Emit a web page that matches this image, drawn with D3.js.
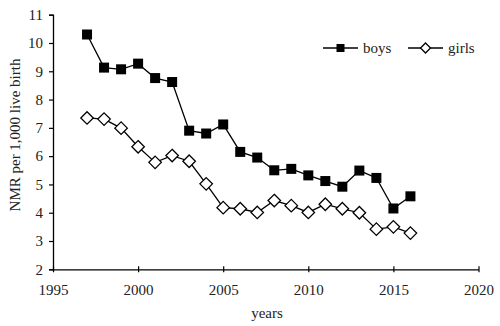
<!DOCTYPE html>
<html>
<head>
<meta charset="utf-8">
<script src="https://cdn.jsdelivr.net/npm/d3@7"></script>
<style>
  html, body { margin: 0; padding: 0; background: #fff; }
  svg { display: block; }
</style>
</head>
<body>
<svg id="chart" width="500" height="326"></svg>
<script>
// Neonatal mortality rate per 1,000 live births, by sex
const years = [1997, 1998, 1999, 2000, 2001, 2002, 2003, 2004, 2005, 2006,
               2007, 2008, 2009, 2010, 2011, 2012, 2013, 2014, 2015, 2016];
const boys  = [10.3, 9.13, 9.07, 9.27, 8.76, 8.62, 6.9, 6.8, 7.12, 6.15,
               5.95, 5.5, 5.55, 5.32, 5.12, 4.92, 5.49, 5.23, 4.15, 4.58];
const girls = [7.35, 7.31, 6.99, 6.33, 5.78, 6.02, 5.82, 5.02, 4.18, 4.14,
               4.01, 4.43, 4.25, 4.01, 4.3, 4.14, 4.0, 3.42, 3.5, 3.28];
const xTicks = [1995, 2000, 2005, 2010, 2015, 2020];
const yTicks = [2, 3, 4, 5, 6, 7, 8, 9, 10, 11];

const FONT = "Liberation Serif, Tinos, Times New Roman, Times, DejaVu Serif, serif";
const svg = d3.select("#chart").style("font-family", FONT);
const x = d3.scaleLinear().domain([1995, 2020]).range([53, 478.5]);
const y = d3.scaleLinear().domain([2, 11]).range([269.3, 14.7]);

// Axes
const xAxis = svg.append("g").attr("transform", `translate(0,${y(2)})`)
  .call(d3.axisBottom(x).tickValues(xTicks).tickFormat(d3.format("d")).tickSize(0).tickPadding(15));
xAxis.selectAll(".tick").append("line").attr("y1", -3).attr("y2", 3).attr("stroke", "#000");
const yAxis = svg.append("g").attr("transform", `translate(${x(1995)},0)`)
  .call(d3.axisLeft(y).tickValues(yTicks).tickSize(4).tickPadding(6));

[xAxis, yAxis].forEach(g => {
  g.attr("font-family", null).attr("font-size", null);
  g.select(".domain").attr("stroke", "#000").attr("stroke-width", 1.3);
  g.selectAll(".tick line").attr("stroke", "#000").attr("stroke-width", 1.2);
  g.selectAll(".tick text").attr("fill", "#222")
    .style("font-family", FONT).style("font-size", "15px");
});

// Axis titles
svg.append("text").attr("x", 267).attr("y", 318).attr("text-anchor", "middle")
  .style("font-family", FONT).style("font-size", "15px").attr("fill", "#222").text("years");
svg.append("text").attr("transform", "translate(20,135) rotate(-90)")
  .attr("text-anchor", "middle").style("font-family", FONT).style("font-size", "15px").attr("fill", "#222")
  .text("NMR per 1,000 live birth");

const line = d3.line().x(d => x(d[0])).y(d => y(d[1]));
const diamond = s => `M0,${-s}L${s},0L0,${s}L${-s},0Z`;

function drawMarker(g, cx, cy, kind, size) {
  if (kind === "square") {
    g.append("rect").attr("x", cx - size).attr("y", cy - size)
      .attr("width", size * 2).attr("height", size * 2).attr("fill", "#000");
  } else {
    g.append("path").attr("d", diamond(size * 1.25)).attr("transform", `translate(${cx},${cy})`)
      .attr("fill", "#fff").attr("stroke", "#000").attr("stroke-width", 1.3);
  }
}

function drawSeries(vals, kind) {
  const pts = years.map((yr, i) => [yr, vals[i]]);
  svg.append("path").datum(pts).attr("d", line)
    .attr("fill", "none").attr("stroke", "#000").attr("stroke-width", 1.3);
  const g = svg.append("g");
  pts.forEach(p => drawMarker(g, x(p[0]), y(p[1]), kind, 5));
}

drawSeries(boys, "square");
drawSeries(girls, "diamond");

// Legend
const legend = [
  { label: "boys", kind: "square", x0: 323 },
  { label: "girls", kind: "diamond", x0: 408 }
];
const lg = svg.append("g");
legend.forEach(d => {
  lg.append("line").attr("x1", d.x0).attr("x2", d.x0 + 35).attr("y1", 48).attr("y2", 48)
    .attr("stroke", "#000").attr("stroke-width", 1.3);
  drawMarker(lg, d.x0 + 17.5, 48, d.kind, 4);
  lg.append("text").attr("x", d.x0 + 40).attr("y", 53)
    .style("font-family", FONT).style("font-size", "15px").attr("fill", "#222").text(d.label);
});
</script>
</body>
</html>
